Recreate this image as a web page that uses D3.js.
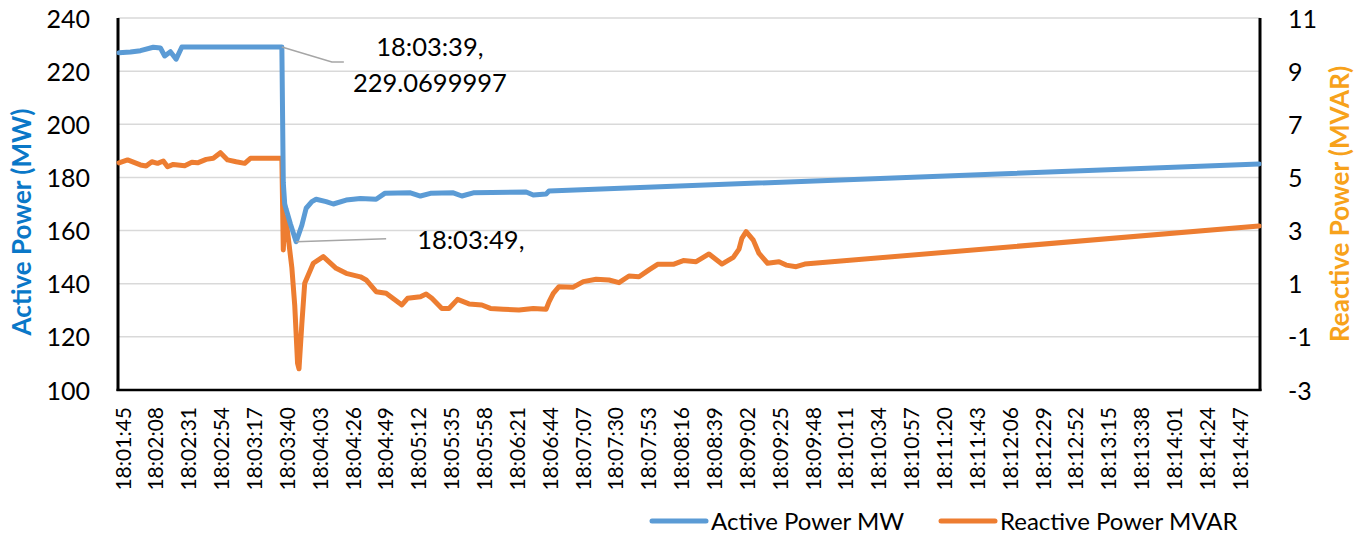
<!DOCTYPE html>
<html>
<head>
<meta charset="utf-8">
<script src="https://cdn.jsdelivr.net/npm/d3@7/dist/d3.min.js"></script>
<style>
  html, body { margin: 0; padding: 0; background: #fff; }
  svg { display: block; font-family: Lato, "Open Sans", sans-serif; }
</style>
</head>
<body>
<svg id="chart" width="1365" height="537"></svg>
<script>
// ---- data (seconds after 18:01:45) ----
const baseTime = "18:01:45";
const totalSeconds = 798;

const activeSec = [0, 8, 15, 24, 29, 32, 36, 40, 44, 114, 115, 116, 117, 120, 124, 128, 131, 135, 138, 145, 150, 159, 169, 180, 186, 204, 211, 218, 234, 240, 248, 285, 290, 299, 301, 798];
const activeMW  = [226.9, 227.2, 227.7, 229.0, 228.7, 225.7, 227.3, 224.5, 229.07, 229.07, 178, 170, 168, 162.5, 155.8, 162, 168.4, 170.9, 171.8, 170.9, 170.0, 171.5, 172.1, 171.8, 174.0, 174.2, 173.0, 174.0, 174.2, 173.0, 174.2, 174.5, 173.4, 173.8, 174.9, 185.05];

const reactiveSec  = [0, 6, 15, 19, 23, 27, 31, 34, 38, 46, 51, 55, 61, 66, 71, 76, 82, 88, 92, 114, 115, 116, 117, 121, 123, 125, 126, 128, 130, 136, 143, 152, 159, 169, 173, 180, 187, 198, 202, 211, 215, 219, 226, 231, 237, 245, 254, 260, 269, 280, 290, 299, 301, 304, 308, 318, 325, 334, 343, 350, 357, 364, 371, 377, 388, 395, 404, 413, 422, 430, 434, 436, 439, 444, 448, 454, 462, 467, 474, 480, 798];
const reactiveMVAR = [5.55, 5.66, 5.47, 5.43, 5.59, 5.53, 5.62, 5.40, 5.49, 5.44, 5.57, 5.55, 5.68, 5.72, 5.93, 5.66, 5.59, 5.53, 5.72, 5.72, 2.27, 3.5, 3.4, 1.6, 0.2, -2.0, -2.2, -0.5, 1.02, 1.77, 2.02, 1.58, 1.39, 1.26, 1.14, 0.70, 0.64, 0.20, 0.45, 0.51, 0.61, 0.45, 0.07, 0.07, 0.41, 0.24, 0.20, 0.07, 0.04, 0.01, 0.07, 0.04, 0.32, 0.64, 0.89, 0.87, 1.08, 1.17, 1.14, 1.04, 1.29, 1.26, 1.52, 1.73, 1.73, 1.87, 1.83, 2.12, 1.74, 1.99, 2.3, 2.71, 2.96, 2.64, 2.14, 1.77, 1.83, 1.70, 1.64, 1.74, 3.17];

const tickSec = d3.range(0, 783, 23);
const tickLabels = ["18:01:45","18:02:08","18:02:31","18:02:54","18:03:17","18:03:40","18:04:03","18:04:26","18:04:49","18:05:12","18:05:35","18:05:58","18:06:21","18:06:44","18:07:07","18:07:30","18:07:53","18:08:16","18:08:39","18:09:02","18:09:25","18:09:48","18:10:11","18:10:34","18:10:57","18:11:20","18:11:43","18:12:06","18:12:29","18:12:52","18:13:15","18:13:38","18:14:01","18:14:24","18:14:47"];

const leftTicks  = [100, 120, 140, 160, 180, 200, 220, 240];
const rightTicks = [-3, -1, 1, 3, 5, 7, 9, 11];

const annotations = [
  { sec: 114, value: 229.07, lines: ["18:03:39,", "229.0699997"] },
  { sec: 124, value: 155.8,  lines: ["18:03:49,"] }
];

const seriesNames = ["Active Power MW", "Reactive Power MVAR"];
const axisTitles = ["Active Power (MW)", "Reactive Power (MVAR)"];

// ---- layout ----
const plot = { left: 118, right: 1260, top: 18, bottom: 390 };
const blue = "#5B9BD5", orange = "#ED7D31";

const svg = d3.select("#chart");

const x = d3.scaleLinear().domain([0, totalSeconds]).range([plot.left + 1, plot.right - 1]);
const yL = d3.scaleLinear().domain([100, 240]).range([plot.bottom, plot.top]);
const yR = d3.scaleLinear().domain([-3, 11]).range([plot.bottom, plot.top]);

// gridlines
svg.append("g").selectAll("line").data(leftTicks).join("line")
  .attr("x1", plot.left).attr("x2", plot.right)
  .attr("y1", d => yL(d)).attr("y2", d => yL(d))
  .attr("stroke", "#d9d9d9").attr("stroke-width", 1.5);

// left axis labels
const gL = svg.append("g").attr("transform", `translate(${plot.left},0)`)
  .call(d3.axisLeft(yL).tickValues(leftTicks).tickFormat(d => String(d)).tickSize(0).tickPadding(28));
gL.select(".domain").remove();
gL.selectAll("text").attr("font-size", 25).attr("fill", "#000")
  .attr("font-family", "Lato, sans-serif").attr("dy", "0.36em");

// right axis labels
const gR = svg.append("g").attr("transform", `translate(${plot.right},0)`)
  .call(d3.axisRight(yR).tickValues(rightTicks).tickFormat(d => String(d)).tickSize(0).tickPadding(28));
gR.select(".domain").remove();
gR.selectAll("text").attr("font-size", 25).attr("fill", "#000")
  .attr("font-family", "Lato, sans-serif").attr("dy", "0.36em");

// bottom axis labels
const gB = svg.append("g").attr("transform", `translate(0,${plot.bottom})`)
  .call(d3.axisBottom(x).tickValues(tickSec).tickFormat((d, i) => tickLabels[i]).tickSize(0));
gB.select(".domain").remove();
gB.selectAll("text")
  .attr("font-size", 21).attr("fill", "#000").attr("font-family", "Lato, sans-serif")
  .attr("text-anchor", "end")
  .attr("transform", "translate(3.5,17) rotate(-90)")
  .attr("x", 0).attr("y", 0).attr("dy", "0.36em");

// axes lines
svg.append("line").attr("x1", plot.left).attr("x2", plot.left).attr("y1", plot.top).attr("y2", plot.bottom + 1)
  .attr("stroke", "#000").attr("stroke-width", 3);
svg.append("line").attr("x1", plot.right).attr("x2", plot.right).attr("y1", plot.top).attr("y2", plot.bottom + 1)
  .attr("stroke", "#000").attr("stroke-width", 3);
svg.append("line").attr("x1", plot.left - 1.5).attr("x2", plot.right + 1.5).attr("y1", plot.bottom).attr("y2", plot.bottom)
  .attr("stroke", "#000").attr("stroke-width", 2.5);

// series
const activeData = activeSec.map((s, i) => [s, activeMW[i]]);
const reactiveData = reactiveSec.map((s, i) => [s, reactiveMVAR[i]]);

svg.append("path").datum(reactiveData)
  .attr("fill", "none").attr("stroke", orange).attr("stroke-width", 5)
  .attr("stroke-linejoin", "round").attr("stroke-linecap", "round")
  .attr("d", d3.line().x(d => x(d[0])).y(d => yR(d[1])));

svg.append("path").datum(activeData)
  .attr("fill", "none").attr("stroke", blue).attr("stroke-width", 5)
  .attr("stroke-linejoin", "round").attr("stroke-linecap", "round")
  .attr("d", d3.line().x(d => x(d[0])).y(d => yL(d[1])));

// annotations
const a1 = annotations[0];
const p1 = [x(a1.sec), yL(a1.value)];
svg.append("polyline")
  .attr("points", [[p1[0], p1[1]], [p1[0] + 50, p1[1] + 15], [p1[0] + 62, p1[1] + 15]].map(p => p.join(",")).join(" "))
  .attr("fill", "none").attr("stroke", "#a6a6a6").attr("stroke-width", 1.5);
const t1 = svg.append("text").attr("font-size", 25.5).attr("text-anchor", "middle")
  .attr("font-family", "Lato, sans-serif").attr("fill", "#000");
a1.lines.forEach((l, i) => {
  t1.append("tspan").attr("x", p1[0] + 148).attr("y", p1[1] + 9 + i * 35.7).text(l);
});

const a2 = annotations[1];
const p2 = [x(a2.sec), yL(a2.value)];
svg.append("line").attr("x1", p2[0]).attr("y1", p2[1]).attr("x2", p2[0] + 90).attr("y2", p2[1] - 3)
  .attr("stroke", "#a6a6a6").attr("stroke-width", 1.5);
svg.append("text").attr("font-size", 25.5).attr("text-anchor", "start")
  .attr("font-family", "Lato, sans-serif").attr("fill", "#000")
  .attr("x", p2[0] + 121).attr("y", p2[1] + 7).text(a2.lines[0]);

// axis titles
svg.append("text").attr("transform", `translate(31,${(plot.top + plot.bottom) / 2 + 18}) rotate(-90)`)
  .attr("text-anchor", "middle").attr("font-size", 26).attr("font-weight", "bold")
  .attr("font-family", "Lato, sans-serif").attr("fill", "#0A78C8").text(axisTitles[0]);
svg.append("text").attr("transform", `translate(1349,${(plot.top + plot.bottom) / 2 + 0}) rotate(-90)`)
  .attr("text-anchor", "middle").attr("font-size", 26).attr("font-weight", "bold")
  .attr("font-family", "Lato, sans-serif").attr("fill", "#F7A21B").text(axisTitles[1]);

// legend
const legend = [
  { name: seriesNames[0], color: blue, x0: 652, x1: 706, tx: 711 },
  { name: seriesNames[1], color: orange, x0: 941, x1: 995, tx: 1000 }
];
const lg = svg.append("g");
legend.forEach(l => {
  lg.append("line").attr("x1", l.x0).attr("x2", l.x1).attr("y1", 521).attr("y2", 521)
    .attr("stroke", l.color).attr("stroke-width", 5).attr("stroke-linecap", "round");
  lg.append("text").attr("x", l.tx).attr("y", 530).attr("font-size", 24)
    .attr("font-family", "Lato, sans-serif").attr("fill", "#000").text(l.name);
});
</script>
</body>
</html>
